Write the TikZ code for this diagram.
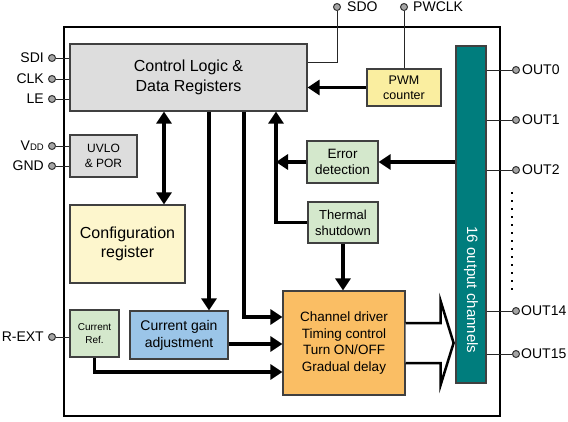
\documentclass[tikz,border=0pt]{standalone}
\usepackage{fontspec}
\setmainfont{Liberation Sans}
\usepackage{tikz}
\usetikzlibrary{arrows.meta,positioning}
\definecolor{ctrlgray}{RGB}{221,221,221}
\definecolor{pwmyellow}{RGB}{250,238,160}
\definecolor{cfgyellow}{RGB}{253,246,205}
\definecolor{lightgreen}{RGB}{212,232,204}
\definecolor{gainblue}{RGB}{155,197,232}
\definecolor{drvorange}{RGB}{250,190,100}
\definecolor{chteal}{RGB}{0,125,125}
\definecolor{pingray}{RGB}{165,165,165}
\tikzset{
  block/.style={draw=black!75, line width=1.2pt, align=center, inner sep=0pt},
  pin/.style={circle, draw=black!80, fill=pingray, line width=1pt, minimum size=7pt, inner sep=0pt},
  pinlbl/.style={inner sep=0pt, font=\fontsize{14}{16}\selectfont},
  wire/.style={line width=1pt, black!85},
  bus/.style={line width=3.5pt, -{Triangle[length=12pt,width=15pt]}},
  dbus/.style={line width=3.5pt, {Triangle[length=12pt,width=15pt]}-{Triangle[length=12pt,width=15pt]}},
  hollow/.style={line width=2.5pt, fill=white, line join=miter},
}

\begin{document}
\begin{tikzpicture}[x=1pt,y=-1pt]
    \useasboundingbox (0,0) rectangle (568,421);
    % chip outline
    \node[draw, line width=2pt, minimum width=436, minimum height=389, inner sep=0pt] (chip) at (282,221.5) {};
    % blocks
    \node[block, fill=ctrlgray, minimum width=237, minimum height=67, font=\fontsize{16}{19.5}\selectfont] (ctrl) at (188.5,77.5) {Control Logic \&\\Data Registers};
    \node[block, fill=ctrlgray, minimum width=67, minimum height=42, font=\fontsize{12}{15}\selectfont] (uvlo) at (103.5,156) {UVLO\\\& POR};
    \node[block, fill=cfgyellow, minimum width=115, minimum height=78, font=\fontsize{16}{19.5}\selectfont] (cfg) at (127.5,244) {Configuration\\register};
    \node[block, fill=pwmyellow, minimum width=74, minimum height=37, font=\fontsize{12.5}{15}\selectfont] (pwm) at (404,87.5) {PWM\\counter};
    \node[block, fill=lightgreen, minimum width=71, minimum height=42, font=\fontsize{13.5}{16}\selectfont] (err) at (342.5,162) {Error\\detection};
    \node[block, fill=lightgreen, minimum width=70, minimum height=41, font=\fontsize{13}{16}\selectfont] (therm) at (343,222.5) {Thermal\\shutdown};
    \node[block, fill=drvorange, minimum width=122, minimum height=104, font=\fontsize{13.5}{16.7}\selectfont] (drv) at (344,343) {Channel driver\\Timing control\\Turn ON/OFF\\Gradual delay};
    \node[block, fill=gainblue, minimum width=98, minimum height=48, font=\fontsize{14}{17}\selectfont] (gain) at (179,335) {Current gain\\adjustment};
    \node[block, fill=lightgreen, minimum width=49, minimum height=47, font=\fontsize{10}{13}\selectfont] (iref) at (94.5,333.5) {Current\\Ref.};
    \node[block, fill=chteal, minimum width=30, minimum height=337] (bar) at (471,214.5) {};
    \node[rotate=-90, text=white, font=\fontsize{15}{18}\selectfont] (bartext) at (471,290) {16 output channels};
    % pins
    \node[pin] (sdi) at (52,58) {};
    \node[pin] (clk) at (52,79) {};
    \node[pin] (le) at (52,99) {};
    \node[pin] (vdd) at (52,146) {};
    \node[pin] (gnd) at (52,166) {};
    \node[pin] (rext) at (52,337) {};
    \node[pin] (sdo) at (337,7) {};
    \node[pin] (pwclk) at (404,7) {};
    \node[pin] (out0) at (516,70) {};
    \node[pin] (out1) at (516,120) {};
    \node[pin] (out2) at (516,170) {};
    \node[pin] (out14) at (516,311) {};
    \node[pin] (out15) at (516,354) {};
    % pin labels
    \node[pinlbl, left=4pt of sdi] (sdit) {SDI};
    \node[pinlbl, left=4pt of clk] (clkt) {CLK};
    \node[pinlbl, left=4pt of le] (let) {LE};
    \node[pinlbl, left=4pt of vdd] (vddt) {V{\fontsize{9.5}{10}\selectfont DD}};
    \node[pinlbl, left=4pt of gnd] (gndt) {GND};
    \node[pinlbl, left=4pt of rext] (rextt) {R-EXT};
    \node[pinlbl, right=6pt of sdo] (sdot) {SDO};
    \node[pinlbl, right=5pt of pwclk] (pwclkt) {PWCLK};
    \node[pinlbl, right=2pt of out0] (out0t) {OUT0};
    \node[pinlbl, right=2pt of out1] (out1t) {OUT1};
    \node[pinlbl, right=2pt of out2] (out2t) {OUT2};
    \node[pinlbl, right=1pt of out14] (out14t) {OUT14};
    \node[pinlbl, right=1pt of out15] (out15t) {OUT15};
    \draw[line width=1.8pt, dash pattern=on 1.8pt off 6.2pt] (512,192) -- (512,290);
    % pin wires
    \foreach \p in {sdi,clk,le} \draw[wire] (\p) -- (\p -| ctrl.west);
    \foreach \p in {vdd,gnd} \draw[wire] (\p) -- (\p -| uvlo.west);
    \draw[wire] (rext) -- (rext -| iref.west);
    \foreach \p in {out0,out1,out2,out14,out15} \draw[wire] (bar.east |- \p) -- (\p);
    \coordinate (sdoin) at ([yshift=15.5pt]ctrl.east);
    \draw[wire] (sdo) |- (sdoin);
    \draw[wire] (pwclk) -- (pwclk |- pwm.north);
    % buses
    \coordinate (cfgbus) at (164,0);
    \coordinate (gainbus) at (209,0);
    \coordinate (drvbus) at (244,317);
    \coordinate (fbbus) at (276,0);
    \coordinate (irefbus) at (0,372);
    \coordinate (gainout) at ([yshift=-9pt]gain.east);
    \draw[bus] (pwm.west) -- (pwm.west -| ctrl.east);
    \draw[dbus] (cfgbus |- ctrl.south) -- (cfgbus |- cfg.north);
    \draw[bus] (gainbus |- ctrl.south) -- (gainbus |- gain.north);
    \draw[bus] (drvbus |- ctrl.south) |- (drv.west |- drvbus);
    \draw[bus] (bar.west |- err.east) -- (err.east);
    \draw[bus] (err.west) -- (fbbus |- err.west);
    \draw[bus] (therm.west) -| (fbbus |- ctrl.south);
    \draw[bus] (therm.south) -- (therm.south |- drv.north);
    \draw[bus] (gainout) -- (gainout -| drv.west);
    \draw[bus] (iref.south) |- (drv.west |- irefbus);
    % wide output arrow
    \draw[hollow] (drv.east) ++(0,-20) -- ++(35,0) -- ++(0,-22) -- ++(13,42) -- ++(-13,42) -- ++(0,-22) -- ++(-35,0);
\end{tikzpicture}
\end{document}
